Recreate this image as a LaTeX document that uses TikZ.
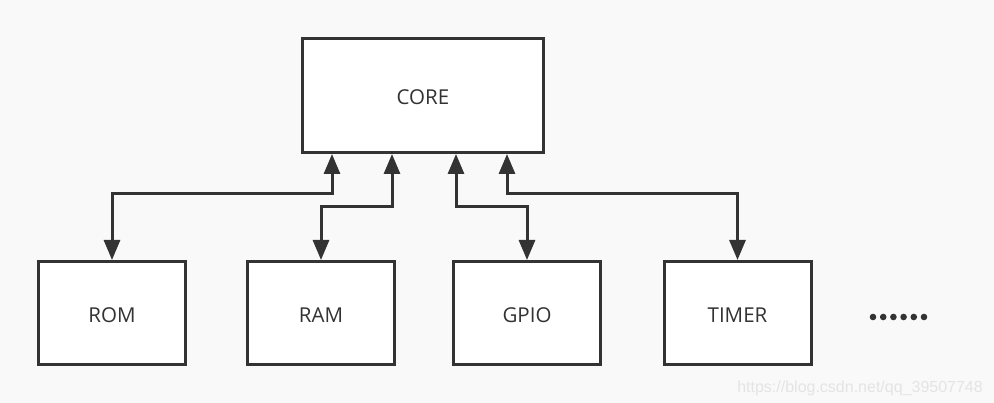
\documentclass[tikz,border=0pt]{standalone}
\usepackage{fontspec}
\setmainfont{Open Sans}
\newfontfamily\markfont{Liberation Sans}
\usetikzlibrary{arrows.meta}
\definecolor{bggray}{RGB}{249,249,249}
\definecolor{linegray}{RGB}{51,51,51}
\definecolor{markgray}{RGB}{228,228,228}

\begin{document}
\begin{tikzpicture}[x=1pt,y=-1pt,>={Triangle[length=20pt,width=16pt]},
    box/.style={draw=linegray,line width=3pt,fill=white,text=linegray,
        font=\fontsize{20.5}{24}\selectfont,text height=19pt},
    link/.style={<->,draw=linegray,line width=3pt}]
    % Background
    \fill[bggray] (0,0) rectangle (994,403);
    \useasboundingbox (0,0) rectangle (994,403);

    % Core
    \node[box,minimum width=241pt,minimum height=114pt] (core) at (423,95.5) {CORE};

    % Peripherals
    \foreach \name/\lbl/\x in {rom/ROM/112,ram/RAM/321,gpio/GPIO/527,timer/TIMER/737.5}
        \node[box,minimum width=147pt,minimum height=103pt] (\name) at (\x,313) {\lbl};

    % Buses
    \foreach \name/\cx/\hy in {rom/332/194,ram/392/207,gpio/456/207,timer/507/194}
        \draw[link] (core.south -| \cx,0) -- (\cx,\hy) -| (\name.north);

    % More
    \foreach \i in {0,...,5}
        \fill[linegray] (873+\i*10.2,317) circle (3.3pt);

    % Watermark
    \node[anchor=base east,inner sep=0pt,text=markgray,font=\markfont\fontsize{16}{18}\selectfont]
        (mark) at (983,392) {https://blog.csdn.net/qq\_39507748};
\end{tikzpicture}
\end{document}
